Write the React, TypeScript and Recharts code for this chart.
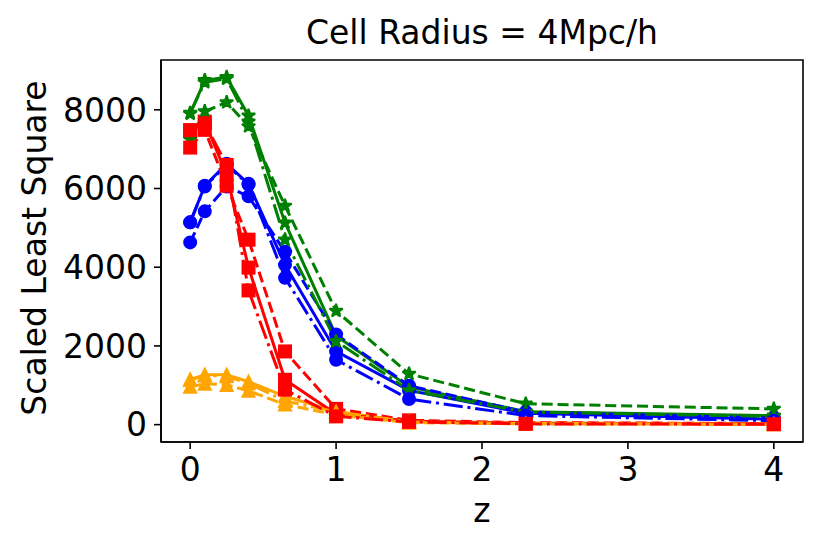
import { LineChart, Line, XAxis, YAxis, ReferenceArea } from 'recharts';

// redshift bins
const Z = [0, 0.1, 0.25, 0.4, 0.65, 1, 1.5, 2.3, 4];

// green stars
const greenSolid = [7900, 8750, 8830, 7850, 5130, 2260, 960, 330, 230];
const greenDashed = [7250, 7960, 8190, 7580, 5560, 2890, 1290, 530, 400];
const greenDashDot = [7920, 8700, 8790, 7700, 4700, 2120, 870, 320, 210];

// blue circles
const blueSolid = [5140, 6070, 6630, 6120, 4060, 1860, 870, 290, 140];
const blueDashed = [4630, 5420, 6050, 5800, 4390, 2290, 990, 320, 170];
const blueDashDot = [5140, 6050, 6600, 6100, 3730, 1650, 650, 230, 100];

// red squares
const redSolid = [7480, 7700, 6350, 3990, 1140, 270, 90, 30, 20];
const redDashed = [7040, 7490, 6070, 4700, 1860, 400, 110, 50, 30];
const redDashDot = [7480, 7650, 6600, 3410, 890, 210, 70, 20, 10];

// orange triangles
const orangeSolid = [1140, 1270, 1270, 1090, 720, 330, 80, 40, 20];
const orangeDashed = [960, 1040, 1010, 860, 510, 250, 50, 20, 10];
const orangeDashDot = [1140, 1250, 1230, 1050, 600, 330, 70, 30, 15];

const X_TICKS = [0, 1, 2, 3, 4];
const Y_TICKS = [0, 2000, 4000, 6000, 8000];
const X_DOMAIN: [number, number] = [-0.2, 4.2];
const Y_DOMAIN: [number, number] = [-441, 9265];

const GREEN = '#008000';
const BLUE = '#0000ff';
const RED = '#ff0000';
const ORANGE = '#ffa500';

const DASHED = '11.1 4.8';
const DASHDOT = '19.2 4.8 3 4.8';
const FONT = '"DejaVu Sans", sans-serif';

type Shape = 'star' | 'circle' | 'square' | 'triangle';

// draw order: solid set, dashed set, dash-dot set
const SERIES: Array<{ key: string; values: number[]; color: string; dash?: string; shape: Shape }> = [
  { key: 'gS', values: greenSolid, color: GREEN, shape: 'star' },
  { key: 'bS', values: blueSolid, color: BLUE, shape: 'circle' },
  { key: 'oS', values: orangeSolid, color: ORANGE, shape: 'triangle' },
  { key: 'rS', values: redSolid, color: RED, shape: 'square' },
  { key: 'gD', values: greenDashed, color: GREEN, dash: DASHED, shape: 'star' },
  { key: 'bD', values: blueDashed, color: BLUE, dash: DASHED, shape: 'circle' },
  { key: 'oD', values: orangeDashed, color: ORANGE, dash: DASHED, shape: 'triangle' },
  { key: 'rD', values: redDashed, color: RED, dash: DASHED, shape: 'square' },
  { key: 'gDD', values: greenDashDot, color: GREEN, dash: DASHDOT, shape: 'star' },
  { key: 'bDD', values: blueDashDot, color: BLUE, dash: DASHDOT, shape: 'circle' },
  { key: 'oDD', values: orangeDashDot, color: ORANGE, dash: DASHDOT, shape: 'triangle' },
  { key: 'rDD', values: redDashDot, color: RED, dash: DASHDOT, shape: 'square' },
];

const rows = Z.map((z, i) => {
  const row: Record<string, number> = { z };
  SERIES.forEach((s) => {
    row[s.key] = s.values[i];
  });
  return row;
});

function starPoints(cx: number, cy: number, r: number) {
  const inner = r * 0.381966;
  const pts: string[] = [];
  for (let k = 0; k < 10; k++) {
    const rad = k % 2 === 0 ? r : inner;
    const a = -Math.PI / 2 + (k * Math.PI) / 5;
    pts.push(`${cx + rad * Math.cos(a)},${cy + rad * Math.sin(a)}`);
  }
  return pts.join(' ');
}

// matplotlib-like marker, drawn without the line's dash pattern
function makeDot(shape: Shape, color: string) {
  return (props: any) => {
    const { cx, cy, index } = props;
    if (cx == null || cy == null) return <g key={index} />;
    const common = { fill: color, stroke: color, strokeWidth: 2, strokeLinejoin: 'miter' as const };
    if (shape === 'circle') return <circle key={index} cx={cx} cy={cy} r={6} {...common} />;
    if (shape === 'square') return <rect key={index} x={cx - 6} y={cy - 6} width={12} height={12} {...common} />;
    if (shape === 'triangle')
      return <polygon key={index} points={`${cx},${cy - 6} ${cx - 6},${cy + 6} ${cx + 6},${cy + 6}`} {...common} />;
    return <polygon key={index} points={starPoints(cx, cy, 7)} {...common} strokeLinejoin="bevel" />;
  };
}

const tickStyle = { fontFamily: FONT, fontSize: 33, fill: '#000' };
const axisLine = { stroke: '#000', strokeWidth: 1.6 };
const tickLine = { stroke: '#000', strokeWidth: 1.6 };

export default function App() {
  return (
    <div style={{ position: 'absolute', left: 0, top: 0, width: 830, height: 554, background: '#fff' }}>
      <LineChart width={830} height={554} data={rows} margin={{ top: 60, right: 27, bottom: 0, left: 0 }}>
        <XAxis
          dataKey="z"
          type="number"
          domain={X_DOMAIN}
          ticks={X_TICKS}
          height={112}
          tickSize={7}
          tickMargin={9}
          tick={tickStyle}
          axisLine={axisLine}
          tickLine={tickLine}
        />
        <YAxis
          type="number"
          domain={Y_DOMAIN}
          ticks={Y_TICKS}
          width={161}
          tickSize={7}
          tickMargin={7}
          tick={tickStyle}
          axisLine={axisLine}
          tickLine={tickLine}
        />
        {SERIES.map((s) => (
          <Line
            key={s.key}
            dataKey={s.key}
            stroke={s.color}
            strokeWidth={3}
            strokeDasharray={s.dash}
            dot={makeDot(s.shape, s.color)}
            activeDot={false}
            isAnimationActive={false}
          />
        ))}
        {/* axes frame (top/right spines) */}
        <ReferenceArea
          x1={X_DOMAIN[0]}
          x2={X_DOMAIN[1]}
          y1={Y_DOMAIN[0]}
          y2={Y_DOMAIN[1]}
          fill="none"
          fillOpacity={0}
          stroke="#000"
          strokeWidth={1.6}
          strokeOpacity={1}
          ifOverflow="visible"
        />
      </LineChart>
      <svg
        width={830}
        height={554}
        style={{ position: 'absolute', left: 0, top: 0, pointerEvents: 'none' }}
      >
        <text x={482} y={44} textAnchor="middle" fontFamily={FONT} fontSize={33} fill="#000">
          Cell Radius = 4Mpc/h
        </text>
        <text x={482} y={522} textAnchor="middle" fontFamily={FONT} fontSize={33} fill="#000">
          z
        </text>
        <text
          transform="translate(46,248) rotate(-90)"
          textAnchor="middle"
          fontFamily={FONT}
          fontSize={33}
          fill="#000"
        >
          Scaled Least Square
        </text>
      </svg>
    </div>
  );
}
